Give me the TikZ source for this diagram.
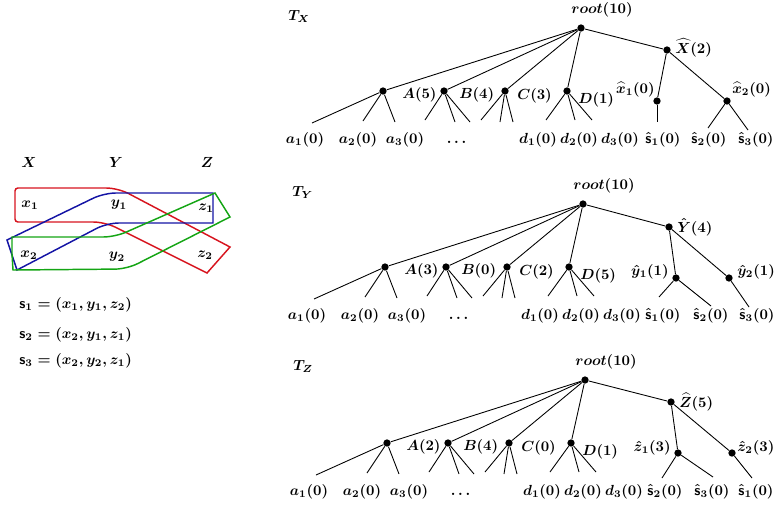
\documentclass[tikz,border=0pt]{standalone}
\usepackage{amsmath}
\definecolor{rc}{RGB}{215,20,30}
\definecolor{bc}{RGB}{20,20,165}
\definecolor{gc}{RGB}{20,165,20}
\tikzset{
  dot/.style={circle,fill=black,inner sep=0pt,minimum size=5pt},
  lbl/.style={inner sep=0pt,font=\boldmath},
  edge/.style={line width=0.6pt},
  hyper/.style={line width=1pt},
}
\newcommand\mytreeleft[5]{%
  \node[dot] (#1r) at (581,28) {};
  \node[lbl,anchor=base] (#1rl) at (602,13) {$root(10)$};
  \node[dot] (#1A) at (383,91) {};
  \node[dot] (#1B) at (444,91) {};
  \node[dot] (#1C) at (505,91) {};
  \node[dot] (#1D) at (567,91) {};
  \node[lbl,anchor=base west] (#1Al) at (402,98) {$A(#2)$};
  \node[lbl,anchor=base west] (#1Bl) at (459,98) {$B(#3)$};
  \node[lbl,anchor=base west] (#1Cl) at (517,99) {$C(#4)$};
  \node[lbl,anchor=base west] (#1Dl) at (578,103) {$D(#5)$};
  \node[lbl,anchor=base] (#1la1) at (305,143) {$a_1(0)$};
  \node[lbl,anchor=base] (#1la2) at (358,143) {$a_2(0)$};
  \node[lbl,anchor=base] (#1la3) at (405,143) {$a_3(0)$};
  \node[lbl,anchor=base] (#1ldots) at (458,143) {$\dots$};
  \node[lbl,anchor=base] (#1ld1) at (538,143) {$d_1(0)$};
  \node[lbl,anchor=base] (#1ld2) at (579,143) {$d_2(0)$};
  \node[lbl,anchor=base] (#1ld3) at (620,143) {$d_3(0)$};
  \coordinate (#1a1) at (312,123);
  \coordinate (#1a2) at (363,121);
  \coordinate (#1a3) at (395,122);
  \coordinate (#1b1) at (425,120);
  \coordinate (#1b2) at (455,122);
  \coordinate (#1b3) at (470,122);
  \coordinate (#1c1) at (481,120);
  \coordinate (#1c2) at (500,122);
  \coordinate (#1c3) at (513,122);
  \coordinate (#1d1) at (546,120);
  \coordinate (#1d2) at (575,120);
  \coordinate (#1d3) at (592,120);
  \draw[edge] (#1r) -- (#1A);
  \draw[edge] (#1r) -- (#1B);
  \draw[edge] (#1r) -- (#1C);
  \draw[edge] (#1r) -- (#1D);
  \draw[edge] (#1A) -- (#1a1);
  \draw[edge] (#1A) -- (#1a2);
  \draw[edge] (#1A) -- (#1a3);
  \draw[edge] (#1B) -- (#1b1);
  \draw[edge] (#1B) -- (#1b2);
  \draw[edge] (#1B) -- (#1b3);
  \draw[edge] (#1C) -- (#1c1);
  \draw[edge] (#1C) -- (#1c2);
  \draw[edge] (#1C) -- (#1c3);
  \draw[edge] (#1D) -- (#1d1);
  \draw[edge] (#1D) -- (#1d2);
  \draw[edge] (#1D) -- (#1d3);
}
\begin{document}
\begin{tikzpicture}[x=0.024cm,y=-0.024cm]
\useasboundingbox (0,0) rectangle (781,508);
% ---------- left panel ----------
\node[lbl] (hX) at (29,162) {$X$};
\node[lbl] (hY) at (116,162) {$Y$};
\node[lbl] (hZ) at (207,162) {$Z$};
\draw[hyper,rc] (15,205) [rounded corners=2pt] -- (15,188) [rounded corners=8pt] -- (118,188) [sharp corners] -- (230,247) -- (207,273) [rounded corners=8pt] -- (105,222) [rounded corners=2pt] -- (15,222) [sharp corners] -- cycle;
\draw[hyper,bc] (7,240) [rounded corners=8pt] -- (104,193) [sharp corners] -- (213,193) -- (213,223) [rounded corners=8pt] -- (107,223) [sharp corners] -- (17,270) -- cycle;
\draw[hyper,gc] (12,254) -- (12,237) [rounded corners=8pt] -- (115,237) [sharp corners] -- (215,193) -- (230,217) [rounded corners=8pt] -- (127,269) [sharp corners] -- (13,270) -- cycle;
\node[lbl] (nx1) at (30,205) {$x_1$};
\node[lbl] (ny1) at (119,205) {$y_1$};
\node[lbl] (nz1) at (206,208) {$z_1$};
\node[lbl] (nx2) at (29,255) {$x_2$};
\node[lbl] (ny2) at (117,257) {$y_2$};
\node[lbl] (nz2) at (205,255) {$z_2$};
\node[lbl,anchor=west] (s1) at (19,305) {$\mathsf{s}_1=(x_1,y_1,z_2)$};
\node[lbl,anchor=west] (s2) at (19,335) {$\mathsf{s}_2=(x_2,y_1,z_1)$};
\node[lbl,anchor=west] (s3) at (19,361) {$\mathsf{s}_3=(x_2,y_2,z_1)$};
% ---------- T_X ----------
\node[lbl,anchor=base west] (TX) at (288,20) {$T_X$};
\mytreeleft{x}{5}{4}{3}{1}
\node[dot] (xH) at (667,50) {};
\node[lbl,anchor=base west] (xHl) at (675,53) {$\widehat{X}(2)$};
\node[dot] (xh1) at (657,101) {};
\node[lbl,anchor=base east] (xh1l) at (655,93) {$\widehat{x}_1(0)$};
\node[dot] (xh2) at (727,101) {};
\node[lbl,anchor=base west] (xh2l) at (732,93) {$\widehat{x}_2(0)$};
\node[lbl,anchor=base] (xs1) at (663,143) {$\hat{\mathsf{s}}_1(0)$};
\node[lbl,anchor=base] (xs2) at (709,143) {$\hat{\mathsf{s}}_2(0)$};
\node[lbl,anchor=base] (xs3) at (756,143) {$\hat{\mathsf{s}}_3(0)$};
\coordinate (xe1) at (657,122);
\coordinate (xe2) at (708,128);
\coordinate (xe3) at (748,130);
\draw[edge] (xr) -- (xH);
\draw[edge] (xH) -- (xh1);
\draw[edge] (xH) -- (xh2);
\draw[edge] (xh1) -- (xe1);
\draw[edge] (xh2) -- (xe2);
\draw[edge] (xh2) -- (xe3);
% ---------- T_Y ----------
\node[lbl,anchor=base west] (TY) at (292,196) {$T_Y$};
\begin{scope}[shift={(2,176)}]
\mytreeleft{y}{3}{0}{2}{5}
\end{scope}
\node[dot] (yH) at (669,227) {};
\node[lbl,anchor=base west] (yHl) at (677,232) {$\hat{Y}(4)$};
\node[dot] (yh1) at (676,278) {};
\node[lbl,anchor=base east] (yh1l) at (669,275) {$\hat{y}_1(1)$};
\node[dot] (yh2) at (729,278) {};
\node[lbl,anchor=base west] (yh2l) at (737,275) {$\hat{y}_2(1)$};
\node[lbl,anchor=base] (ys1) at (663,319) {$\hat{\mathsf{s}}_1(0)$};
\node[lbl,anchor=base] (ys2) at (711,319) {$\hat{\mathsf{s}}_2(0)$};
\node[lbl,anchor=base] (ys3) at (757,319) {$\hat{\mathsf{s}}_3(0)$};
\coordinate (ye1) at (659,297);
\coordinate (ye2) at (711,306);
\coordinate (ye3) at (749,307);
\draw[edge] (yr) -- (yH);
\draw[edge] (yH) -- (yh1);
\draw[edge] (yH) -- (yh2);
\draw[edge] (yh1) -- (ye1);
\draw[edge] (yh1) -- (ye2);
\draw[edge] (yh2) -- (ye3);
% ---------- T_Z ----------
\node[lbl,anchor=base west] (TZ) at (293,370) {$T_Z$};
\begin{scope}[shift={(4,352)}]
\mytreeleft{z}{2}{4}{0}{1}
\end{scope}
\node[dot] (zH) at (671,402) {};
\node[lbl,anchor=base west] (zHl) at (679,407) {$\widehat{Z}(5)$};
\node[dot] (zh1) at (678,453) {};
\node[lbl,anchor=base east] (zh1l) at (671,451) {$\hat{z}_1(3)$};
\node[dot] (zh2) at (732,453) {};
\node[lbl,anchor=base west] (zh2l) at (737,451) {$\hat{z}_2(3)$};
\node[lbl,anchor=base] (zs2) at (665,495) {$\hat{\mathsf{s}}_2(0)$};
\node[lbl,anchor=base] (zs3) at (712,495) {$\hat{\mathsf{s}}_3(0)$};
\node[lbl,anchor=base] (zs1) at (756,495) {$\hat{\mathsf{s}}_1(0)$};
\coordinate (ze1) at (662,478);
\coordinate (ze2) at (713,477);
\coordinate (ze3) at (752,478);
\draw[edge] (zr) -- (zH);
\draw[edge] (zH) -- (zh1);
\draw[edge] (zH) -- (zh2);
\draw[edge] (zh1) -- (ze1);
\draw[edge] (zh1) -- (ze2);
\draw[edge] (zh2) -- (ze3);
\end{tikzpicture}
\end{document}
